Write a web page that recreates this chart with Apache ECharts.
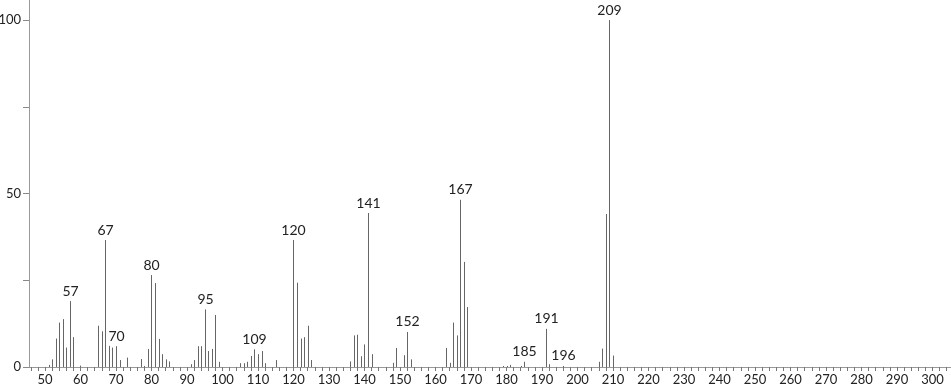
<!DOCTYPE html>
<html>
<head>
<meta charset="utf-8">
<script src="https://cdn.jsdelivr.net/npm/echarts@6/dist/echarts.min.js"></script>
<style>
html,body{margin:0;padding:0;background:#fff;}
#chart{width:951px;height:389px;}
</style>
</head>
<body>
<div id="chart"></div>
<script>
// m/z values
var mz = [51,52,53,54,55,56,57,58,60,65,66,67,68,69,70,71,73,77,78,79,80,81,82,83,84,85,
  91,92,93,94,95,96,97,98,99,105,106,107,108,109,110,111,112,115,120,121,122,123,124,125,
  136,137,138,139,140,141,142,148,149,151,152,153,163,164,165,166,167,168,169,
  179,180,181,184,185,191,192,196,206,207,208,209,210];
// relative intensities
var intensity = [0.6,2.2,8.2,12.8,13.8,5.6,19.0,8.6,0.4,11.9,10.3,36.6,6.1,5.6,6.0,2.0,2.7,2.3,0.3,5.2,26.5,24.2,8.1,3.7,2.2,1.6,
  0.8,2.0,6.0,6.0,16.6,4.6,5.2,15.0,1.5,1.1,1.1,1.5,3.2,5.1,3.7,4.6,1.1,2.0,36.6,24.3,8.2,8.6,11.9,2.0,
  1.6,9.1,9.3,3.1,6.5,44.4,3.7,1.2,5.5,3.4,10.1,2.2,5.5,1.2,12.8,9.1,48.2,30.3,17.3,
  0.3,0.3,0.6,0.3,1.5,11.0,0.8,0.3,1.5,5.3,44.1,100,3.3];
// labelled peaks
var labelledPeaks = [57,67,70,80,95,109,120,141,152,167,185,191,196,209];
// axis tick values
var xLabelValues = [50,60,70,80,90,100,110,120,130,140,150,160,170,180,190,200,210,220,230,240,250,260,270,280,290,300];
var xTickValues = [];
for (var t = 46; t <= 304; t += 2) xTickValues.push(t);
var yTickValues = [0,25,50,75,100];
var yLabelValues = [0,50,100];

var data = mz.map(function(m, i){ return [m, intensity[i]]; });

var chart = echarts.init(document.getElementById('chart'));
chart.setOption({
  animation: false,
  backgroundColor: '#fff',
  grid: {left: 29, right: 0, top: 0, bottom: 22, containLabel: false, outerBoundsMode: 'none'},
  xAxis: {
    type: 'value', min: 45.5, max: 305.2,
    axisLine: {show: true, lineStyle: {color: '#999', width: 1}},
    axisTick: {show: true, customValues: xTickValues, length: 4, lineStyle: {color: '#777'}},
    axisLabel: {show: true, customValues: xLabelValues, margin: 6, color: '#222', fontSize: 13, fontFamily: 'Lato', hideOverlap: false},
    splitLine: {show: false}
  },
  yAxis: {
    type: 'value', min: 0, max: 105.8,
    axisLine: {show: true, lineStyle: {color: '#999', width: 1}},
    axisTick: {show: true, customValues: yTickValues, length: 6, lineStyle: {color: '#888'}},
    axisLabel: {show: true, customValues: yLabelValues, margin: 8, color: '#222', fontSize: 13, fontFamily: 'Lato'},
    splitLine: {show: false}
  },
  series: [{
    type: 'custom',
    clip: false,
    data: data,
    renderItem: function(params, api){
      var x = api.value(0), y = api.value(1);
      var p0 = api.coord([x, 0]);
      var p1 = api.coord([x, y]);
      var px = Math.round(p0[0]) + 0.5;
      var children = [{
        type: 'line',
        shape: {x1: px, y1: p0[1], x2: px, y2: p1[1]},
        style: {stroke: '#666', lineWidth: 1}
      }];
      if (labelledPeaks.indexOf(x) >= 0) {
        children.push({
          type: 'text',
          style: {
            text: String(x), x: px, y: p1[1] - 3,
            align: 'center', verticalAlign: 'bottom',
            fill: '#222', fontSize: 14, fontFamily: 'Lato'
          }
        });
      }
      return {type: 'group', children: children};
    }
  }]
});
</script>
</body>
</html>
